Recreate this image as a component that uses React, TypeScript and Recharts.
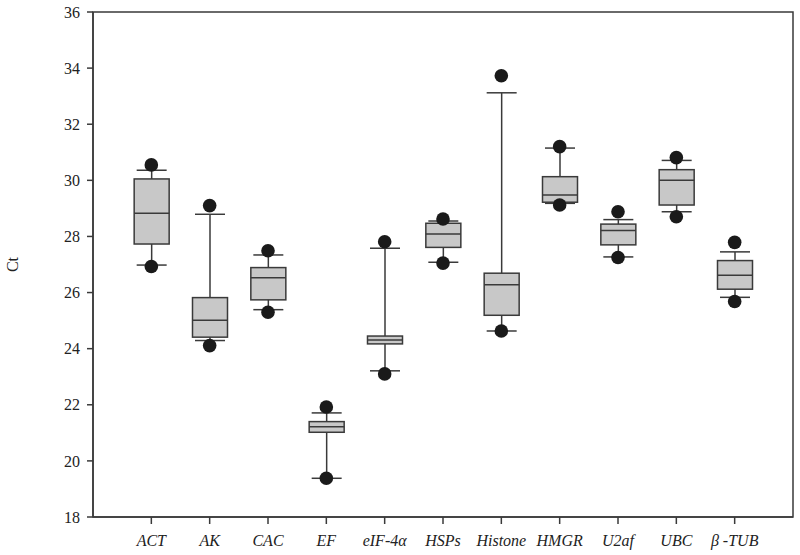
import React from 'react';
import { ComposedChart, Bar, Scatter, XAxis, YAxis, ReferenceArea } from 'recharts';

const categories = ['ACT', 'AK', 'CAC', 'EF', 'eIF-4α', 'HSPs', 'Histone', 'HMGR', 'U2af', 'UBC', 'β -TUB'];
const upperOutlier = [30.55, 29.1, 27.49, 21.92, 27.81, 28.62, 33.73, 31.2, 28.88, 30.81, 27.79];
const upperWhisker = [30.36, 28.79, 27.34, 21.71, 27.58, 28.55, 33.12, 31.15, 28.6, 30.71, 27.45];
const q3 = [30.05, 25.82, 26.89, 21.4, 24.45, 28.47, 26.69, 30.13, 28.44, 30.38, 27.14];
const median = [28.83, 25.01, 26.53, 21.22, 24.31, 28.09, 26.28, 29.48, 28.21, 30.0, 26.62];
const q1 = [27.73, 24.41, 25.74, 21.02, 24.17, 27.61, 25.19, 29.22, 27.7, 29.12, 26.12];
const lowerWhisker = [26.98, 24.29, 25.39, 19.38, 23.21, 27.08, 24.63, 29.18, 27.27, 28.88, 25.83];
const lowerOutlier = [26.93, 24.11, 25.3, 19.38, 23.1, 27.05, 24.63, 29.12, 27.25, 28.7, 25.68];
const yTicks = [18, 20, 22, 24, 26, 28, 30, 32, 34, 36];

const rows = categories.map((name, i) => ({
  x: i + 1,
  name,
  upperOutlier: upperOutlier[i],
  upperWhisker: upperWhisker[i],
  q3: q3[i],
  median: median[i],
  q1: q1[i],
  lowerWhisker: lowerWhisker[i],
  lowerOutlier: lowerOutlier[i],
}));

const LINE = '#3a3a3a';
const FONT = '"Liberation Serif", "Times New Roman", serif';

const BoxShape = (props: any) => {
  const { x, y, width, height, payload } = props;
  if (!payload) return null;
  const top = Math.min(y, y + height);
  const h = Math.abs(height);
  const hi = payload.upperWhisker;
  const lo = payload.lowerWhisker;
  const toY = (v: number) => top + (h * (hi - v)) / (hi - lo);
  const cx = x + width / 2;
  const capHalf = (width * 15) / 35;
  const yQ3 = toY(payload.q3);
  const yQ1 = toY(payload.q1);
  const yMed = toY(payload.median);
  return (
    <g>
      <line x1={cx} x2={cx} y1={top} y2={top + h} stroke={LINE} strokeWidth={1.5} />
      <line x1={cx - capHalf} x2={cx + capHalf} y1={top} y2={top} stroke={LINE} strokeWidth={1.5} />
      <line x1={cx - capHalf} x2={cx + capHalf} y1={top + h} y2={top + h} stroke={LINE} strokeWidth={1.5} />
      <rect x={x} y={yQ3} width={width} height={yQ1 - yQ3} fill="#c8c8c8" stroke={LINE} strokeWidth={1.5} />
      <line x1={x} x2={x + width} y1={yMed} y2={yMed} stroke={LINE} strokeWidth={1.5} />
    </g>
  );
};

const Dot = (props: any) => {
  const { cx, cy } = props;
  if (cx == null || cy == null) return null;
  return <circle cx={cx} cy={cy} r={6.8} fill="#1a1a1a" />;
};

export default function App() {
  return (
    <div style={{ position: 'fixed', left: 0, top: 0, background: '#fff' }}>
      <ComposedChart width={800} height={555} data={rows} margin={{ top: 12, right: 7, left: 0, bottom: 0 }}>
        <XAxis
          dataKey="x"
          type="number"
          domain={[0, 12]}
          ticks={[1, 2, 3, 4, 5, 6, 7, 8, 9, 10, 11]}
          tickFormatter={(v: number) => categories[v - 1] ?? ''}
          height={38}
          tickSize={7}
          tickMargin={11}
          interval={0}
          stroke={LINE}
          strokeWidth={1.5}
          tick={{ fill: '#222', fontSize: 16, fontFamily: FONT, fontStyle: 'italic' }}
        />
        <YAxis
          type="number"
          domain={[18, 36]}
          ticks={yTicks}
          width={93}
          tickSize={6}
          tickMargin={7}
          interval={0}
          stroke={LINE}
          strokeWidth={1.5}
          tick={{ fill: '#222', fontSize: 16, fontFamily: FONT }}
          label={{ value: 'Ct', angle: -90, position: 'center', dx: -34, style: { fontFamily: FONT, fontSize: 16, fill: '#222' } }}
        />
        <ReferenceArea x1={0} x2={12} y1={18} y2={36} fill="none" stroke={LINE} strokeWidth={1.5} />
        <Bar
          dataKey={(d: any) => [d.lowerWhisker, d.upperWhisker]}
          barSize={35}
          shape={<BoxShape />}
          isAnimationActive={false}
        />
        <Scatter dataKey="upperOutlier" shape={<Dot />} isAnimationActive={false} />
        <Scatter dataKey="lowerOutlier" shape={<Dot />} isAnimationActive={false} />
      </ComposedChart>
    </div>
  );
}
